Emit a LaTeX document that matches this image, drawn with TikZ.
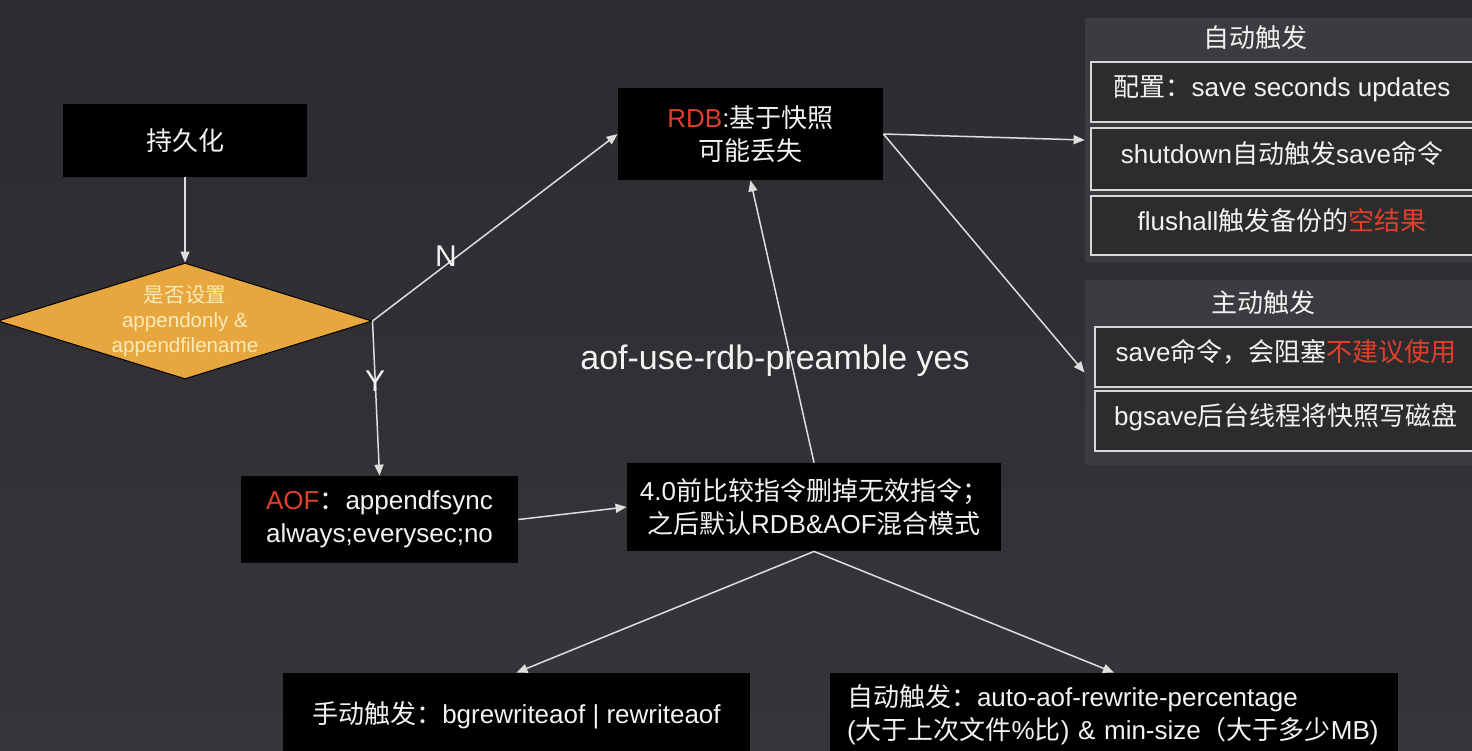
\documentclass[tikz,border=0pt]{standalone}
\usepackage{fontspec}
\setmainfont{Liberation Sans}
\newfontfamily\cjk{Noto Sans CJK SC}
\usetikzlibrary{arrows.meta,shapes.geometric}
\definecolor{bgtop}{RGB}{44,44,48}
\definecolor{bgbot}{RGB}{54,54,58}
\definecolor{panelc}{RGB}{60,60,64}
\definecolor{innerc}{RGB}{44,44,46}
\definecolor{edgec}{RGB}{215,215,215}
\definecolor{myred}{RGB}{222,64,42}
\definecolor{orangec}{RGB}{232,166,62}
\definecolor{dtext}{RGB}{248,234,185}
\definecolor{linec}{RGB}{222,222,222}
\definecolor{txt}{RGB}{242,242,242}
\begin{document}
\begin{tikzpicture}[x=0.5pt,y=-0.5pt,
  blackbox/.style={fill=black, text=txt, align=center, inner sep=0pt,
    font=\fontsize{13}{16.5}\selectfont},
  panelbg/.style={fill=panelc, inner sep=0pt},
  panelbox/.style={draw=edgec, line width=1pt, fill=innerc, text=txt, inner sep=0pt,
    text height=11pt, text depth=6.2pt, font=\fontsize{13}{16}\selectfont},
  title/.style={text=txt, inner sep=0pt, font=\fontsize{13}{16}\selectfont},
  conn/.style={draw=linec, line width=0.75pt, -{Triangle[length=5.5pt,width=4.5pt]}},
  lbl/.style={text=txt, inner sep=0pt, font=\fontsize{15}{18}\selectfont}]
\useasboundingbox (0,0) rectangle (1472,750);
\clip (0,0) rectangle (1472,750);
\shade[top color=bgtop, bottom color=bgbot] (0,0) rectangle (1472,750);

% right panels
\node[panelbg, minimum width=193.5pt, minimum height=122pt] (p1) at (1278.5,140) {};
\node[panelbg, minimum width=193.5pt, minimum height=92.5pt] (p2) at (1278.5,372.5) {};
\node[title] (t1) at (1255,38) {\cjk 自动触发};
\node[title] (t2) at (1263,303) {\cjk 主动触发};
\node[panelbox, minimum width=195.5pt, minimum height=30pt] (a1) at (1286.5,92) {{\cjk 配置：}save seconds updates\hspace*{4.5pt}};
\node[panelbox, minimum width=195.5pt, minimum height=31pt] (a2) at (1286.5,159) {shutdown{\cjk 自动触发}save{\cjk 命令}\hspace*{4.5pt}};
\node[panelbox, minimum width=195.5pt, minimum height=29.5pt] (a3) at (1286.5,225.5) {flushall{\cjk 触发备份的\textcolor{myred}{空结果}}\hspace*{4.5pt}};
\node[panelbox, minimum width=193.5pt, minimum height=30pt] (m1) at (1288.5,357) {save{\cjk 命令，会阻塞\textcolor{myred}{不建议使用}}\hspace*{2.5pt}};
\node[panelbox, minimum width=193.5pt, minimum height=30pt] (m2) at (1288.5,421) {bgsave{\cjk 后台线程将快照写磁盘}\hspace*{2.5pt}};

% main flow
\node[blackbox, minimum width=122pt, minimum height=36.5pt] (persist) at (185,140.5) {\cjk 持久化};
\node[diamond, fill=orangec, draw=black, line width=0.5pt, inner sep=0pt,
  minimum width=187pt, minimum height=58pt] (dia) at (185,321) {};
\node[text=dtext, align=center, inner sep=0pt, font=\fontsize{10.3}{12.5}\selectfont] (diatext) at (dia.center)
  {{\cjk 是否设置}\\appendonly \&\\appendfilename};
\node[blackbox, minimum width=132.5pt, minimum height=46pt] (rdb) at (750.5,134)
  {\textcolor{myred}{RDB}:{\cjk 基于快照}\\{\cjk 可能丢失}};
\node[blackbox, minimum width=138.5pt, minimum height=43.5pt] (aof) at (379.5,519.5)
  {\textcolor{myred}{AOF}{\cjk ：}appendfsync\\always;everysec;no};
\node[blackbox, minimum width=187pt, minimum height=44pt] (mid) at (814,507)
  {4.0{\cjk 前比较指令删掉无效指令；}\\{\cjk 之后默认}RDB\&AOF{\cjk 混合模式}};
\node[blackbox, minimum width=233.5pt, minimum height=42pt] (bot1) at (516.5,715)
  {{\cjk 手动触发：}bgrewriteaof | rewriteaof};
\node[blackbox, minimum width=284pt, minimum height=42pt, inner xsep=8.5pt, text width=267pt, align=left] (bot2) at (1114,715)
  {{\cjk 自动触发：}auto-aof-rewrite-percentage\\({\cjk 大于上次文件}\%{\cjk 比}) \& min-size{\cjk （大于多少}MB)};
\node[text=txt, inner sep=0pt, font=\fontsize{17}{20}\selectfont] (pre) at (775,361) {aof-use-rdb-preamble yes};

% connectors
\draw[conn] (persist.south) -- (dia.north);
\draw[conn] (dia.east) -- node[lbl, pos=0.3, yshift=4.5pt] (nlab) {N} (rdb.west);
\draw[conn] (dia.east) -- node[lbl, pos=0.39] (ylab) {Y} (aof.north);
\draw[conn] (rdb.east) -- (p1.west);
\draw[conn] (rdb.east) -- (p2.west);
\draw[conn] (aof.east) -- (mid.west);
\draw[conn] (mid.north) -- (rdb.south);
\draw[conn] (mid.south) -- (bot1.north);
\draw[conn] (mid.south) -- (bot2.north);
\end{tikzpicture}
\end{document}
